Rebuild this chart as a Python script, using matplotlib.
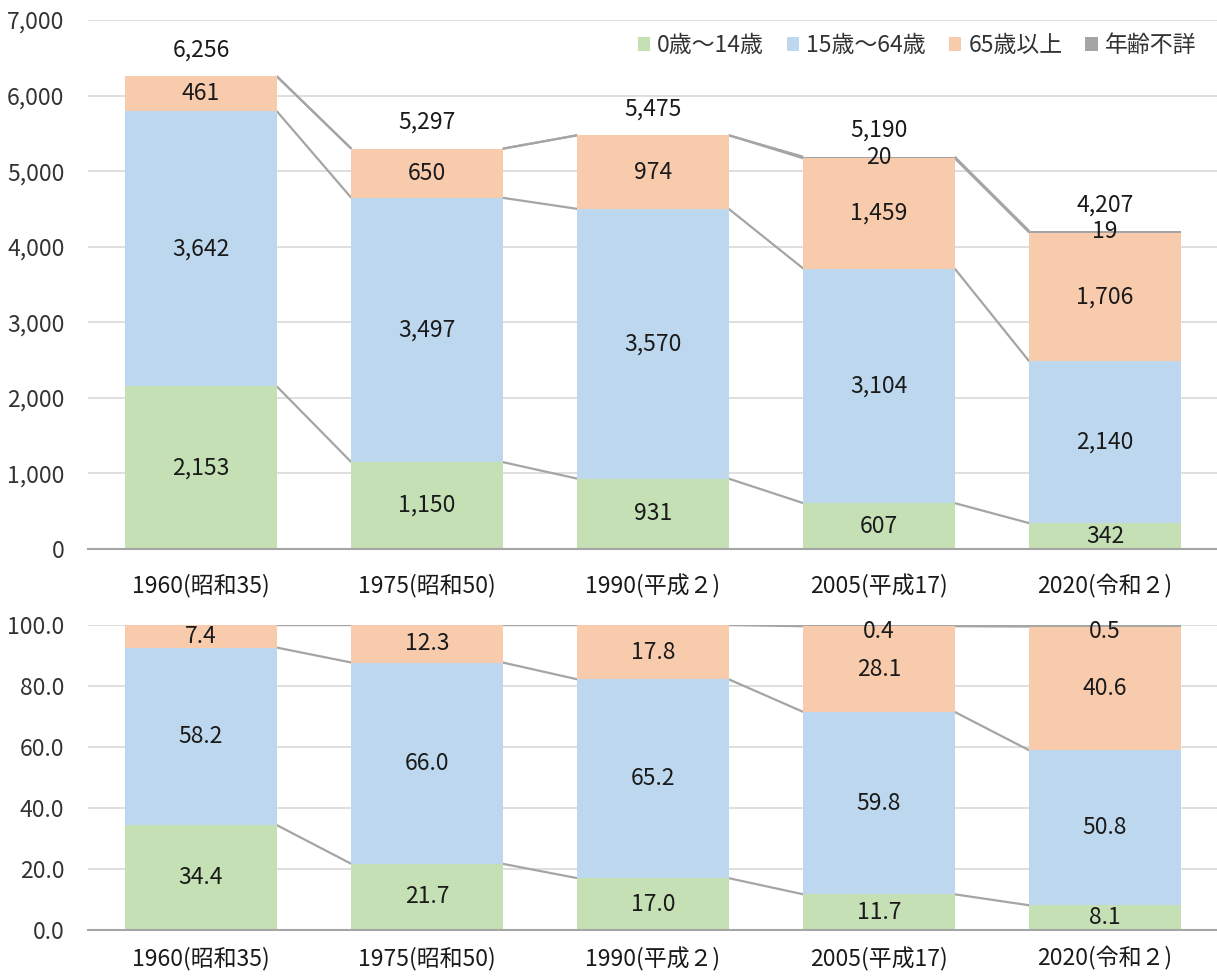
import matplotlib
matplotlib.use("Agg")
import matplotlib.pyplot as plt
from matplotlib.patches import Patch
from matplotlib.ticker import FuncFormatter
import numpy as np

plt.rcParams['font.family'] = ['Noto Sans CJK JP', 'DejaVu Sans']

categories = ["1960(昭和35)", "1975(昭和50)", "1990(平成２)", "2005(平成17)", "2020(令和２)"]
series_names = ["0歳～14歳", "15歳～64歳", "65歳以上", "年齢不詳"]

# population (thousands)
pop_0_14 = [2153, 1150, 931, 607, 342]
pop_15_64 = [3642, 3497, 3570, 3104, 2140]
pop_65 = [461, 650, 974, 1459, 1706]
pop_unknown = [0, 0, 0, 20, 19]
pop_total = [6256, 5297, 5475, 5190, 4207]

# share (%)
pct_0_14 = [34.4, 21.7, 17.0, 11.7, 8.1]
pct_15_64 = [58.2, 66.0, 65.2, 59.8, 50.8]
pct_65 = [7.4, 12.3, 17.8, 28.1, 40.6]
pct_unknown = [0, 0, 0, 0.4, 0.5]

colors = ["#C5E0B4", "#BDD7EE", "#F8CBAD", "#A5A5A5"]
line_color = "#A5A5A5"
text_color = "#1a1a1a"
tick_color = "#333333"
FS = 16.5

fig = plt.figure(figsize=(12.17, 9.76), dpi=100)
ax1 = fig.add_axes([88/1217, 1-549/976, 1130/1217, (549-20)/976])
ax2 = fig.add_axes([88/1217, 1-930/976, 1130/1217, (930-625)/976])

x = np.arange(len(categories))
width = 0.67


def draw(ax, data, labels_fmt, unknown_offset):
    bottom = np.zeros(len(x))
    levels = []
    for i, (vals, col) in enumerate(zip(data, colors)):
        vals = np.array(vals, dtype=float)
        ax.bar(x, vals, width, bottom=bottom, color=col, zorder=2)
        for j in range(len(x)):
            v = vals[j]
            if v <= 0:
                continue
            dy = unknown_offset if i == 3 else 0
            ax.annotate(labels_fmt(v), (x[j], bottom[j] + v / 2), xytext=(0, dy),
                        textcoords='offset points', ha='center', va='center',
                        fontsize=FS, color=text_color, zorder=4)
        bottom = bottom + vals
        levels.append(bottom.copy())
    for lev in levels:
        for j in range(len(x) - 1):
            ax.plot([x[j] + width / 2, x[j + 1] - width / 2], [lev[j], lev[j + 1]],
                    color=line_color, lw=1.6, zorder=1, solid_capstyle='butt')
    return bottom


def style(ax, ymax, step, fmt, xpad):
    ax.set_xlim(-0.5, len(x) - 0.5)
    ax.set_ylim(0, ymax)
    ax.set_yticks(np.arange(0, ymax + step / 2, step))
    ax.yaxis.set_major_formatter(FuncFormatter(fmt))
    ax.grid(axis='y', color='#D9D9D9', lw=1.2, zorder=0)
    ax.set_axisbelow(True)
    for s in ['top', 'right', 'left']:
        ax.spines[s].set_visible(False)
    ax.spines['bottom'].set_color('#A6A6A6')
    ax.spines['bottom'].set_linewidth(1.5)
    ax.tick_params(axis='y', length=0, pad=17, labelsize=FS, labelcolor=tick_color)
    ax.tick_params(axis='x', length=0, pad=xpad, labelsize=FS, labelcolor=text_color)
    ax.set_xticks(x)
    ax.set_xticklabels(categories)


draw(ax1, [pop_0_14, pop_15_64, pop_65, pop_unknown], lambda v: f"{int(round(v)):,}", 0)
style(ax1, 7000, 1000, lambda v, p: f"{int(v):,}", 18)
for j in range(len(x)):
    ax1.annotate(f"{pop_total[j]:,}", (x[j], pop_total[j]), xytext=(0, 19),
                 textcoords='offset points', ha='center', va='center',
                 fontsize=FS, color=text_color)

draw(ax2, [pct_0_14, pct_15_64, pct_65, pct_unknown], lambda v: f"{v:.1f}", -4)
style(ax2, 100, 20, lambda v, p: f"{v:.1f}", 12)

handles = [Patch(facecolor=c, edgecolor='none') for c in colors]
leg = ax1.legend(handles, series_names, loc='upper right', bbox_to_anchor=(0.993, 1.0),
                 ncol=4, frameon=False, fontsize=FS, handlelength=0.55, handleheight=0.55,
                 handletextpad=0.3, columnspacing=1.0, borderaxespad=0.2)
for t in leg.get_texts():
    t.set_color(tick_color)

fig.savefig("out.png", dpi=100)
